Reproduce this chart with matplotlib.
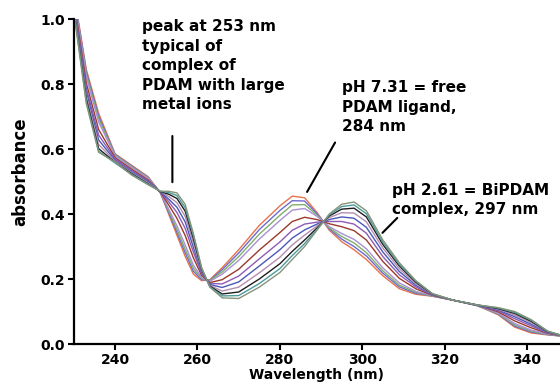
"""UV-vis titration of PDAM with Bi(III): absorbance vs wavelength for a pH series."""
import matplotlib
matplotlib.use("Agg")
import matplotlib.pyplot as plt

plt.rcParams["font.family"] = "DejaVu Sans"
plt.rcParams["font.weight"] = "bold"

wavelength = [230, 233, 236, 240, 244, 248, 251, 253, 255, 257, 259, 261, 263, 266,
              270, 275, 280, 283, 286, 289, 292, 295, 298, 301, 305, 309, 313, 317,
              322, 328, 333, 337, 341, 345, 348]

# spectra, from pH 7.31 (free ligand) down to pH 2.61 (BiPDAM)
spec_01 = [1.08, 0.845, 0.71, 0.585, 0.55, 0.515, 0.465, 0.40, 0.335, 0.27, 0.215, 0.195,
           0.198, 0.235, 0.29, 0.365, 0.425, 0.455, 0.45, 0.405, 0.35, 0.315, 0.29, 0.26,
           0.21, 0.17, 0.153, 0.147, 0.135, 0.118, 0.09, 0.052, 0.034, 0.028, 0.025]
spec_02 = [1.076, 0.838, 0.701, 0.583, 0.548, 0.513, 0.465, 0.405, 0.344, 0.281, 0.224, 0.198,
           0.196, 0.229, 0.280, 0.352, 0.411, 0.441, 0.440, 0.401, 0.354, 0.323, 0.300, 0.271,
           0.218, 0.176, 0.156, 0.148, 0.135, 0.118, 0.092, 0.055, 0.037, 0.029, 0.025]
spec_03 = [1.072, 0.830, 0.693, 0.581, 0.546, 0.512, 0.466, 0.410, 0.353, 0.292, 0.233, 0.201,
           0.195, 0.222, 0.269, 0.338, 0.396, 0.428, 0.429, 0.397, 0.357, 0.331, 0.311, 0.281,
           0.225, 0.181, 0.159, 0.148, 0.135, 0.118, 0.093, 0.059, 0.040, 0.030, 0.025]
spec_04 = [1.067, 0.822, 0.683, 0.578, 0.543, 0.510, 0.466, 0.415, 0.364, 0.305, 0.243, 0.204,
           0.193, 0.215, 0.257, 0.323, 0.380, 0.412, 0.417, 0.393, 0.361, 0.340, 0.322, 0.293,
           0.234, 0.188, 0.162, 0.149, 0.135, 0.118, 0.095, 0.063, 0.043, 0.031, 0.026]
spec_05 = [1.056, 0.803, 0.660, 0.573, 0.538, 0.505, 0.467, 0.428, 0.387, 0.334, 0.265, 0.211,
           0.189, 0.198, 0.230, 0.289, 0.343, 0.377, 0.390, 0.383, 0.370, 0.361, 0.349, 0.320,
           0.254, 0.202, 0.170, 0.150, 0.135, 0.119, 0.099, 0.071, 0.050, 0.033, 0.026]
spec_06 = [1.048, 0.788, 0.643, 0.569, 0.534, 0.502, 0.468, 0.438, 0.405, 0.356, 0.283, 0.217,
           0.186, 0.185, 0.209, 0.262, 0.314, 0.350, 0.369, 0.375, 0.377, 0.377, 0.369, 0.341,
           0.269, 0.213, 0.176, 0.151, 0.135, 0.119, 0.102, 0.078, 0.056, 0.034, 0.027]
spec_07 = [1.040, 0.776, 0.628, 0.565, 0.530, 0.499, 0.468, 0.446, 0.421, 0.376, 0.298, 0.221,
           0.183, 0.174, 0.191, 0.240, 0.290, 0.326, 0.351, 0.369, 0.383, 0.391, 0.387, 0.359,
           0.283, 0.223, 0.181, 0.152, 0.135, 0.119, 0.105, 0.084, 0.061, 0.036, 0.027]
spec_08 = [1.034, 0.764, 0.614, 0.562, 0.527, 0.496, 0.469, 0.454, 0.435, 0.393, 0.311, 0.226,
           0.180, 0.163, 0.175, 0.219, 0.267, 0.305, 0.335, 0.363, 0.389, 0.404, 0.403, 0.376,
           0.295, 0.232, 0.185, 0.153, 0.135, 0.120, 0.107, 0.089, 0.066, 0.037, 0.027]
spec_09 = [1.028, 0.754, 0.601, 0.559, 0.524, 0.493, 0.469, 0.461, 0.448, 0.409, 0.324, 0.230,
           0.178, 0.154, 0.160, 0.200, 0.247, 0.285, 0.320, 0.357, 0.394, 0.415, 0.418, 0.391,
           0.306, 0.240, 0.190, 0.154, 0.135, 0.120, 0.109, 0.094, 0.070, 0.038, 0.028]
spec_10 = [1.024, 0.746, 0.593, 0.557, 0.522, 0.492, 0.470, 0.466, 0.457, 0.420, 0.333, 0.233,
           0.176, 0.148, 0.149, 0.186, 0.232, 0.272, 0.309, 0.353, 0.397, 0.423, 0.428, 0.401,
           0.313, 0.245, 0.193, 0.155, 0.135, 0.120, 0.111, 0.097, 0.073, 0.039, 0.028]
spec_11 = [1.02, 0.74, 0.59, 0.56, 0.52, 0.49, 0.47, 0.47, 0.465, 0.43, 0.34, 0.235,
           0.175, 0.142, 0.14, 0.175, 0.22, 0.26, 0.30, 0.35, 0.40, 0.43, 0.437, 0.41,
           0.32, 0.25, 0.195, 0.155, 0.135, 0.12, 0.112, 0.10, 0.075, 0.04, 0.028]

spectra = [spec_01, spec_02, spec_03, spec_04, spec_05, spec_06,
           spec_07, spec_08, spec_09, spec_10, spec_11]
colors = ["#e8734a", "#6e6ad0", "#7fb069", "#a98fd8", "#9a3a2a", "#8e5bb5",
          "#4a58b8", "#b58db0", "#1e1e1e", "#4c9a9a", "#84947a"]

x_ticks = [240, 260, 280, 300, 320, 340]
y_ticks = [0.0, 0.2, 0.4, 0.6, 0.8, 1.0]

notes = [
    ("peak at 253 nm\ntypical of\ncomplex of\nPDAM with large\nmetal ions",
     (246.6, 1.0), (253.9, 0.64), (253.9, 0.498)),
    ("pH 7.31 = free\nPDAM ligand,\n284 nm",
     (295.0, 0.812), (293.4, 0.62), (286.6, 0.468)),
    ("pH 2.61 = BiPDAM\ncomplex, 297 nm",
     (307.2, 0.496), (308.5, 0.388), (304.9, 0.342)),
]

fig = plt.figure(figsize=(5.6, 3.92), dpi=100)
ax = fig.add_axes([0.132, 0.1224, 0.868, 0.8291])

for y, c in zip(spectra, colors):
    ax.plot(wavelength, y, color=c, lw=1.0)

for text, pos, p0, p1 in notes:
    ax.text(pos[0], pos[1], text, fontsize=11, fontweight="bold", va="top",
            ha="left", linespacing=1.38)
    ax.annotate("", xy=p1, xytext=p0,
                arrowprops=dict(arrowstyle="-", lw=1.5, color="black",
                                shrinkA=0, shrinkB=0))

ax.set_xlim(230, 348.0)
ax.set_ylim(0, 1.0)
ax.set_xticks(x_ticks)
ax.set_yticks(y_ticks)
ax.yaxis.set_major_formatter(plt.FormatStrFormatter("%.1f"))
for s in ["top", "right"]:
    ax.spines[s].set_visible(False)
for s in ["left", "bottom"]:
    ax.spines[s].set_linewidth(1.6)
ax.tick_params(width=1.5, length=4.5, labelsize=10, pad=2)
ax.set_xlabel("Wavelength (nm)", fontsize=10, fontweight="bold", labelpad=1)
ax.set_ylabel("absorbance", fontsize=12, fontweight="bold", labelpad=7)
ax.yaxis.set_label_coords(-0.092, 0.53)

fig.savefig("out.png", dpi=100)
